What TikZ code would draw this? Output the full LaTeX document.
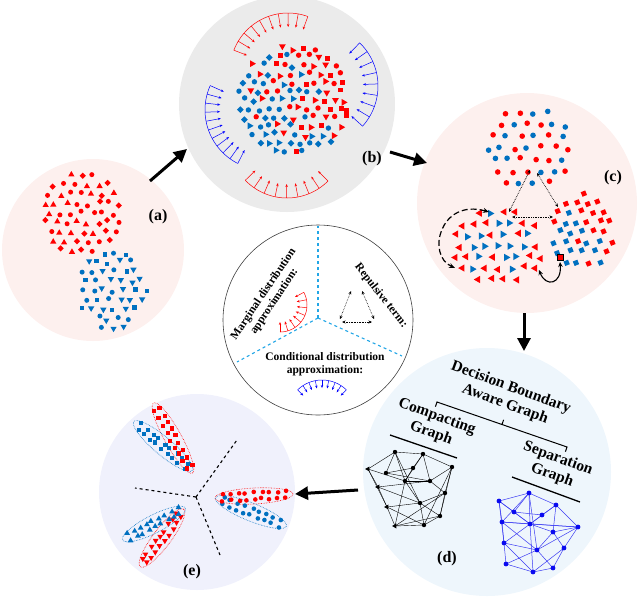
\documentclass[tikz,border=0pt]{standalone}
\usepackage{fontspec}
\setmainfont{Liberation Serif}
\usetikzlibrary{arrows.meta}
\definecolor{pr}{HTML}{FF0000}
\definecolor{pb}{HTML}{0070C0}
\definecolor{bgpink}{HTML}{FDF0EE}
\definecolor{bggrey}{HTML}{EBEBEB}
\definecolor{bgblue}{HTML}{EEF6FC}
\definecolor{bglav}{HTML}{F0F1FC}
\definecolor{cyl}{HTML}{22A6E6}
\definecolor{gblue}{HTML}{0A0AF0}
\newcommand\mkC[3]{\fill[#1] (#2,#3) circle (\msz);}
\newcommand\mkS[3]{\fill[#1,shift={(#2,#3)},scale=\msz] (-0.9,-0.9) rectangle (0.9,0.9);}
\newcommand\mkR[3]{\fill[#1,shift={(#2,#3)},rotate=22,scale=\msz] (-0.9,-0.9) rectangle (0.9,0.9);}
\newcommand\mkD[3]{\fill[#1,shift={(#2,#3)},scale=\msz] (0,-1.25)--(1.25,0)--(0,1.25)--(-1.25,0)--cycle;}
\newcommand\mkTu[3]{\fill[#1,shift={(#2,#3)},scale=\msz] (0,-1.45)--(1.26,0.73)--(-1.26,0.73)--cycle;}
\newcommand\mkTd[3]{\fill[#1,shift={(#2,#3)},scale=\msz] (0,1.45)--(1.26,-0.73)--(-1.26,-0.73)--cycle;}
\newcommand\mkTl[3]{\fill[#1,shift={(#2,#3)},scale=\msz] (-1.45,0)--(0.73,-1.26)--(0.73,1.26)--cycle;}
\newcommand\mkTr[3]{\fill[#1,shift={(#2,#3)},scale=\msz] (1.45,0)--(-0.73,-1.26)--(-0.73,1.26)--cycle;}
\newcommand\scat[6]{%
  \foreach \qi in {-9,...,9}{%
    \foreach \qj in {-9,...,9}{%
      \pgfmathsetmacro\qx{#1+(\qi+0.5*abs(mod(\qj,2)))*#5+#6*rand}%
      \pgfmathsetmacro\qy{#2+\qj*#5*0.866+#6*rand}%
      \pgfmathsetmacro\qux{(\qx-#1)/#3}%
      \pgfmathsetmacro\quy{(\qy-#2)/#4}%
      \pgfmathtruncatemacro\qok{(\qux*\qux+\quy*\quy<1)?1:0}%
      \ifnum\qok=1\relax\ptcode\fi
    }%
  }%
}
\newcommand\elpts[4]{% cx cy a theta
  \foreach \qt in {-4,...,4}{%
    \foreach \qs in {-1,1}{%
      \pgfmathsetmacro\qA{\qt*#3/5+1.6*rand}%
      \pgfmathsetmacro\qB{\qs*3.2+1.0*rand}%
      \pgfmathsetmacro\qx{#1+\qA*cos(#4)-\qB*sin(#4)}%
      \pgfmathsetmacro\qy{#2+\qA*sin(#4)+\qB*cos(#4)}%
      \ptcode
    }%
  }%
}
\newcommand\elo[6]{% cx cy a b theta color
  \draw[#6,densely dotted,line width=0.6pt] plot[domain=0:360,samples=73]
    ({#1+#3*cos(\x)*cos(#5)-#4*sin(\x)*sin(#5)},{#2+#3*cos(\x)*sin(#5)+#4*sin(\x)*cos(#5)}) -- cycle;
}
\newcommand\arcar[8]{% cx cy r a1 a2 n len color
  \draw[#8,line width=0.5pt] plot[domain=#4:#5,samples=40] ({#1+#3*cos(\x)},{#2+#3*sin(\x)});
  \foreach \qk in {1,...,#6}{%
    \pgfmathsetmacro\qang{#4+(#5-#4)*(\qk-1)/(#6-1)}%
    \draw[#8,line width=0.5pt,-{Stealth[length=3pt,width=2.4pt]}]
      ({#1+#3*cos(\qang)},{#2+#3*sin(\qang)}) -- ({#1+(#3-#7)*cos(\qang)},{#2+(#3-#7)*sin(\qang)});
  }%
}
\begin{document}
\begin{tikzpicture}[x=1pt,y=-1pt,
  bigarrow/.style={line width=3pt,-{Triangle[length=13pt,width=13pt]}},
  lab/.style={font=\bfseries\fontsize{16}{16}\selectfont,inner sep=0pt},
  dtext/.style={font=\bfseries\fontsize{15.5}{17.5}\selectfont,align=center,rotate=-20,inner sep=0pt},
  ctext/.style={font=\bfseries\fontsize{11.5}{13}\selectfont,align=center,inner sep=0pt},
  dotarr/.style={densely dotted,line width=0.7pt,{Stealth[length=3.5pt,width=3pt]}-{Stealth[length=3.5pt,width=3pt]}},
  gedge/.style={line width=0.4pt},
  bedge/.style={gblue!80,line width=0.5pt}]
\useasboundingbox (0,0) rectangle (640,598);
\pgfmathsetseed{11}
\begin{scope}
\clip (0,0) rectangle (640,598);
\fill[bgpink] (93,250) circle (91);
\fill[bggrey] (287,104) circle (108);
\fill[bgpink] (527,203) circle (110);
\fill[bgblue] (487,472) circle (124);
\fill[bglav] (197,492) circle (98);
\end{scope}
\draw[black!75,line width=0.6pt] (318,320) circle (95);

% ---------- (a)
\def\msz{2.5}
\def\ptcode{\pgfmathtruncatemacro\qsh{random(1,3)}\ifcase\qsh\or\mkC{pr}{\qx}{\qy}\or\mkTu{pr}{\qx}{\qy}\or\mkD{pr}{\qx}{\qy}\fi}
\scat{82}{213}{40}{42}{10.8}{2.4}
\def\ptcode{\pgfmathtruncatemacro\qsh{random(1,3)}\ifcase\qsh\or\mkC{pb}{\qx}{\qy}\or\mkTd{pb}{\qx}{\qy}\or\mkS{pb}{\qx}{\qy}\fi}
\scat{114}{290}{37}{41}{10.8}{2.4}
\node[lab] (la) at (158,217) {(a)};

% ---------- (b)
\def\msz{2.7}
\def\ptcode{\pgfmathsetmacro\qpr{0.5+0.45*(\qux-\quy)}\pgfmathtruncatemacro\qred{(rnd<\qpr)?1:0}\pgfmathtruncatemacro\qsh{random(1,4)}%
\ifnum\qred=1 \ifcase\qsh\or\mkC{pr}{\qx}{\qy}\or\mkS{pr}{\qx}{\qy}\or\mkTr{pr}{\qx}{\qy}\or\mkTd{pr}{\qx}{\qy}\fi
\else\ifcase\qsh\or\mkC{pb}{\qx}{\qy}\or\mkD{pb}{\qx}{\qy}\or\mkTr{pb}{\qx}{\qy}\or\mkC{pb}{\qx}{\qy}\fi\fi}
\scat{294}{100}{56}{56}{10}{2.4}
\arcar{288}{71}{58}{201}{290}{10}{14}{pr}
\arcar{287}{140}{58}{45}{136}{9}{14}{pr}
\arcar{265}{110}{60}{117}{204}{11}{15}{blue}
\arcar{318}{86}{60}{-46}{42}{9}{15}{blue}
\node[lab] (lb) at (372,159) {(b)};

% ---------- (c)
\def\msz{2.8}
\def\ptcode{\pgfmathtruncatemacro\qred{(rnd<0.5)?1:0}\ifnum\qred=1 \mkC{pr}{\qx}{\qy}\else\mkC{pb}{\qx}{\qy}\fi}
\scat{527}{148}{46}{44}{13.5}{2.5}
\def\msz{2.9}
\def\ptcode{\pgfmathsetmacro\qpr{0.15+0.9*(\qux*\qux+\quy*\quy)}\pgfmathtruncatemacro\qred{(rnd<\qpr)?1:0}\ifnum\qred=1 \mkTl{pr}{\qx}{\qy}\else\mkTr{pb}{\qx}{\qy}\fi}
\scat{498}{246}{46}{38}{12.5}{2}
\def\msz{2.7}
\def\ptcode{\pgfmathsetmacro\qpr{0.45+0.5*(\qux-\quy)}\pgfmathtruncatemacro\qred{(rnd<\qpr)?1:0}\ifnum\qred=1 \mkR{pr}{\qx}{\qy}\else\mkR{pb}{\qx}{\qy}\fi}
\scat{582}{232}{33}{40}{11.5}{2}
\coordinate (t1a) at (530,170); \coordinate (t1b) at (509,212);
\coordinate (t2a) at (537,173); \coordinate (t2b) at (558,207);
\coordinate (t3a) at (512,217); \coordinate (t3b) at (553,217);
\draw[dotarr] (t1a) -- (t1b);
\draw[dotarr] (t2a) -- (t2b);
\draw[dotarr] (t3a) -- (t3b);
\coordinate (da) at (489,212); \coordinate (db) at (455,268);
\draw[line width=1.2pt,dash pattern=on 6pt off 3pt,{Stealth[length=6pt,width=5pt]}-{Stealth[length=6pt,width=5pt]}] (da) .. controls (440,198) and (426,255) .. (db);
\coordinate (sa) at (539,270); \coordinate (sb) at (560,262);
\draw[line width=1.1pt,{Stealth[length=5pt,width=4.5pt]}-{Stealth[length=5pt,width=4.5pt]}] (sa) .. controls (546,288) and (562,284) .. (sb);
\filldraw[fill=pr,draw=black,line width=0.6pt] (557,254) rectangle (563,260);
\node[lab] (lc) at (613,178) {(c)};

% ---------- central circle
\coordinate (cc) at (318,318);
\coordinate (cu) at (318,226); \coordinate (cl) at (237,362); \coordinate (cr) at (402,356);
\draw[cyl,dashed,line width=1.1pt] (cc) -- (cu);
\draw[cyl,dashed,line width=1.1pt] (cc) -- (cl);
\draw[cyl,dashed,line width=1.1pt] (cc) -- (cr);
\node[ctext,rotate=56] (mt) at (269,298) {Marginal distribution\\approximation:};
\node[ctext,rotate=-52] (rt) at (381,296) {Repulsive term:};
\node[ctext] (cdt) at (325,364) {Conditional distribution\\approximation:};
\arcar{280}{305}{27}{-28}{90}{8}{10}{pr}
\arcar{322}{415}{35}{226}{314}{9}{8}{blue}
\coordinate (r1) at (351,291); \coordinate (r3) at (340,319);
\coordinate (r2) at (362,291); \coordinate (r4) at (374,319);
\coordinate (r5) at (342,322); \coordinate (r6) at (372,322);
\draw[dotarr,line width=0.6pt] (r1) -- (r3);
\draw[dotarr,line width=0.6pt] (r2) -- (r4);
\draw[dotarr,line width=0.6pt] (r5) -- (r6);

% ---------- (d)
\node[dtext] (dba) at (508,396) {Decision Boundary\\Aware Graph};
\node[dtext] (cgt) at (434,425) {Compacting\\Graph};
\node[dtext] (sgt) at (555,467) {Separation\\Graph};
\draw[line width=1pt] (435.4,406.7) -- (437,402) -- (502,424.5) -- (503.6,419.8) (502,424.5) -- (567,447) -- (565.4,451.7);
\draw[line width=1.3pt] (390,435) -- (457,458);
\draw[line width=1.3pt] (512,477) -- (580,502);
\foreach \n/\u/\v in {1/395/452,2/423/454,3/452/467,4/368/469,5/386/473,6/413/468,7/405/481,8/430/481,9/378/487,10/445/493,11/420/503,12/387/507,13/440/516,14/395/526,15/424/525}
  \coordinate (k\n) at (\u,\v);
\foreach \a/\b in {1/2,2/3,3/10,10/13,13/15,15/14,14/12,12/9,9/4,4/1,1/7,1/11,1/5,2/6,2/8,2/7,3/8,3/13,4/7,4/12,5/6,5/8,6/7,7/8,7/11,7/14,9/8,9/11,10/8,10/11,11/13,11/15,11/12,12/15,13/14,3/15,10/14}
  \draw[gedge] (k\a) -- (k\b);
\foreach \n in {1,2,3,5,6,7,8,10,11,13,15} \fill (k\n) circle (2.2);
\foreach \n in {4,9,12,14} \fill[shift={(k\n)},scale=2] (-1.45,0)--(0.73,-1.26)--(0.73,1.26)--cycle;
\foreach \n/\u/\v in {1/529/493,2/556/505,3/499/501,4/514/512,5/542/515,6/502/522,7/530/524,8/553/532,9/578/527,10/504/543,11/537/550,12/564/548,13/506/564,14/533/572,15/553/568}
  \coordinate (b\n) at (\u,\v);
\foreach \a/\b in {1/2,2/9,9/12,12/15,15/14,14/13,13/10,10/6,6/3,3/1,1/4,1/7,1/6,1/11,2/5,2/8,2/7,3/4,3/7,4/5,4/7,5/7,6/7,6/11,7/8,7/9,7/10,7/14,8/9,8/12,8/11,9/11,10/14,10/11,11/15,11/13,12/14,6/9,3/10}
  \draw[bedge] (b\a) -- (b\b);
\foreach \n in {1,...,15} \fill[gblue] (b\n) circle (2.4);
\node[lab] (ld) at (447,559) {(d)};

% ---------- (e)
\coordinate (ec) at (196,497);
\coordinate (e1) at (237,440); \coordinate (e2) at (135,488); \coordinate (e3) at (220,555);
\draw[dashed,line width=1.1pt] (ec) -- (e1);
\draw[dashed,line width=1.1pt] (ec) -- (e2);
\draw[dashed,line width=1.1pt] (ec) -- (e3);
\elo{173}{438}{40}{8.5}{61}{pr}
\elo{163}{446}{38}{9}{40}{pb}
\elo{254}{496}{39}{8}{-3}{pr}
\elo{251}{512}{38}{9}{22}{pb}
\elo{154}{524}{35}{9}{-27}{pb}
\elo{162}{538}{36}{9}{-53}{pr}
\def\msz{2.3}
\def\ptcode{\mkS{pb}{\qx}{\qy}}
\elpts{163}{446}{38}{40}
\def\ptcode{\mkS{pr}{\qx}{\qy}}
\elpts{173}{438}{40}{61}
\def\ptcode{\mkC{pb}{\qx}{\qy}}
\elpts{251}{512}{38}{22}
\def\ptcode{\mkC{pr}{\qx}{\qy}}
\elpts{254}{496}{39}{-3}
\def\ptcode{\mkTd{pr}{\qx}{\qy}}
\elpts{162}{538}{36}{-53}
\def\ptcode{\mkTu{pb}{\qx}{\qy}}
\elpts{154}{524}{35}{-27}
\node[lab] (le) at (192,572) {(e)};

% ---------- main arrows
\coordinate (ab1) at (150,181); \coordinate (ab2) at (187,149);
\coordinate (bc1) at (390,152); \coordinate (bc2) at (427,163);
\coordinate (cd1) at (524,313); \coordinate (cd2) at (524,351);
\coordinate (de1) at (358,490); \coordinate (de2) at (295,494);
\draw[bigarrow] (ab1) -- (ab2);
\draw[bigarrow] (bc1) -- (bc2);
\draw[bigarrow] (cd1) -- (cd2);
\draw[bigarrow] (de1) -- (de2);
\end{tikzpicture}
\end{document}
